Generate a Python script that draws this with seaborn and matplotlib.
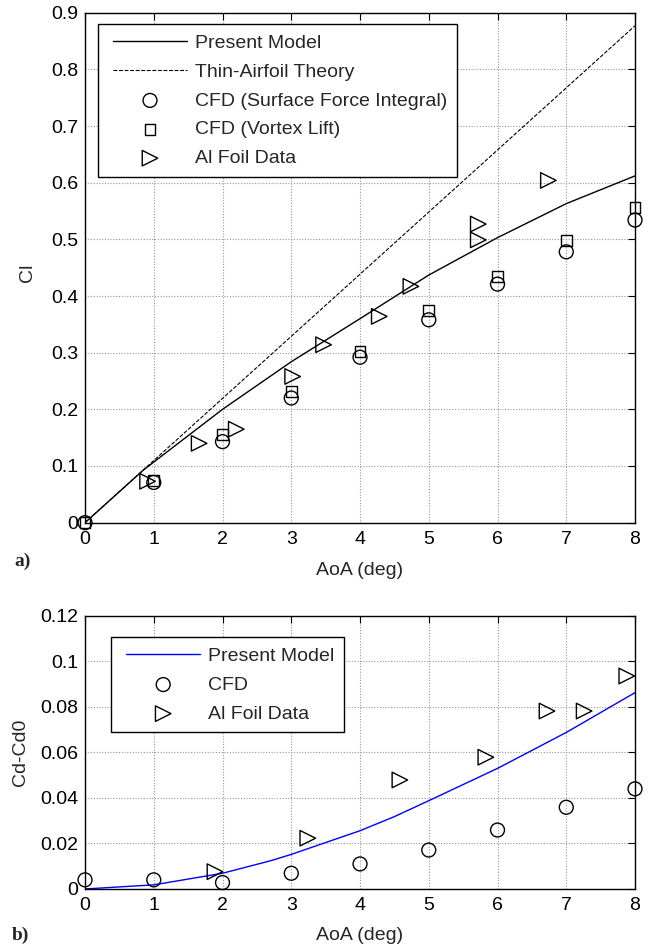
import numpy as np
import pandas as pd
import matplotlib
matplotlib.use("Agg")
import matplotlib.pyplot as plt
import seaborn as sns
from matplotlib.lines import Line2D
from matplotlib.collections import PathCollection
from matplotlib.legend_handler import HandlerLine2D, HandlerPathCollection
from matplotlib.ticker import FuncFormatter

# ---------------- data: panel a) lift ----------------
model_aoa = [0, 0.85, 2, 3, 4, 5, 6, 7, 8]
model_cl = [0, 0.093, 0.200, 0.284, 0.360, 0.437, 0.503, 0.563, 0.612]

thin_aoa = [0, 8]
thin_cl = [0, 0.877]

cfd_aoa = [0, 1, 2, 3, 4, 5, 6, 7, 8]
cfd_sfi_cl = [0, 0.071, 0.143, 0.220, 0.292, 0.358, 0.421, 0.478, 0.534]
cfd_vl_cl = [0, 0.075, 0.155, 0.231, 0.302, 0.374, 0.435, 0.498, 0.557]

foil_aoa = [0.91, 1.66, 2.20, 3.02, 3.47, 4.28, 4.74, 5.72, 5.72, 6.74]
foil_cl = [0.073, 0.140, 0.165, 0.258, 0.314, 0.364, 0.417, 0.499, 0.527, 0.604]

# ---------------- data: panel b) drag ----------------
model_cd_aoa = [0, 1, 2, 2.7, 3, 4, 4.5, 5, 6, 7, 8]
model_cd = [0, 0.0018, 0.0069, 0.0124, 0.0152, 0.0256, 0.0318, 0.0388, 0.0530, 0.0688, 0.0863]

cfd_cd = [0.0040, 0.0040, 0.0028, 0.0069, 0.0110, 0.0171, 0.0259, 0.0359, 0.0440]

foil_cd_aoa = [1.89, 3.24, 4.58, 5.83, 6.72, 7.26, 7.88]
foil_cd = [0.0076, 0.0223, 0.0479, 0.0579, 0.0782, 0.0782, 0.0936]

# ---------------- ticks / labels ----------------
x_ticks = [0, 1, 2, 3, 4, 5, 6, 7, 8]
cl_ticks = [0, 0.1, 0.2, 0.3, 0.4, 0.5, 0.6, 0.7, 0.8, 0.9]
cd_ticks = [0, 0.02, 0.04, 0.06, 0.08, 0.1, 0.12]

sns.set_style("white")
plt.rcParams["font.family"] = ["Liberation Sans", "DejaVu Sans"]
plt.rcParams["axes.edgecolor"] = "black"
plt.rcParams["axes.linewidth"] = 1.0

fig = plt.figure(figsize=(6.55, 9.46), dpi=100)
ax1 = fig.add_axes([0.1298, 0.4475, 0.8397, 0.5391])
ax2 = fig.add_axes([0.1298, 0.0603, 0.8397, 0.2886])

mk = dict(facecolors="none", edgecolor="black", color="black", linewidth=1.0, clip_on=False, zorder=3)

# panel a
sns.lineplot(x=model_aoa, y=model_cl, ax=ax1, color="black", lw=1.0,
             label="Present Model", sort=False, estimator=None)
sns.lineplot(x=thin_aoa, y=thin_cl, ax=ax1, color="black", lw=0.8,
             linestyle=(0, (3.5, 1.5)), label="Thin-Airfoil Theory", sort=False, estimator=None)
sns.scatterplot(x=cfd_aoa, y=cfd_sfi_cl, ax=ax1, marker="o", s=100,
                label="CFD (Surface Force Integral)", **mk)
sns.scatterplot(x=cfd_aoa, y=cfd_vl_cl, ax=ax1, marker="s", s=62,
                label="CFD (Vortex Lift)", **mk)
sns.scatterplot(x=foil_aoa, y=foil_cl, ax=ax1, marker=">", s=125,
                label="Al Foil Data", **mk)

# panel b
sns.lineplot(x=model_cd_aoa, y=model_cd, ax=ax2, color="#0000ff", lw=1.0,
             label="Present Model", sort=False, estimator=None)
sns.scatterplot(x=cfd_aoa, y=cfd_cd, ax=ax2, marker="o", s=100, label="CFD", **mk)
sns.scatterplot(x=foil_cd_aoa, y=foil_cd, ax=ax2, marker=">", s=125,
                label="Al Foil Data", **mk)

fmt = FuncFormatter(lambda v, p: f"{v:g}")
for ax, yt in ((ax1, cl_ticks), (ax2, cd_ticks)):
    ax.set_xlim(x_ticks[0], x_ticks[-1])
    ax.set_ylim(yt[0], yt[-1])
    ax.set_xticks(x_ticks)
    ax.set_yticks(yt)
    ax.yaxis.set_major_formatter(fmt)
    ax.xaxis.set_major_formatter(fmt)
    ax.tick_params(direction="in", top=True, right=True, length=5, width=0.8,
                   labelsize=14, colors="black")
    ax.tick_params(axis="x", pad=6)
    ax.tick_params(axis="y", pad=5)
    ax.grid(True, linestyle=(0, (1, 1.5)), color="0.6", lw=0.8)
    ax.set_axisbelow(True)
    for sp in ax.spines.values():
        sp.set_visible(True)
        sp.set_color("black")
        sp.set_linewidth(1.0)

ax1.set_xlabel("AoA (deg)", fontsize=14)
ax1.set_ylabel("Cl", fontsize=14)
ax2.set_xlabel("AoA (deg)", fontsize=14)
ax2.set_ylabel("Cd-Cd0", fontsize=14)
ax1.xaxis.set_label_coords(0.5, -0.078)
ax2.xaxis.set_label_coords(0.5, -0.141)
ax1.yaxis.set_label_coords(-0.09, 0.49)
ax2.yaxis.set_label_coords(-0.102, 0.5)

hmap = {Line2D: HandlerLine2D(xpad=0.3), PathCollection: HandlerPathCollection(xpad=0.3)}
leg_kw = dict(fontsize=14, loc="upper left", borderaxespad=0, frameon=True,
              fancybox=False, edgecolor="black", framealpha=1, handlelength=4.1,
              handletextpad=0.4, borderpad=0.5, handler_map=hmap, scatterpoints=1)
h1, l1 = ax1.get_legend_handles_labels()
lg1 = ax1.legend(h1, l1, bbox_to_anchor=(0.0227, 0.977), labelspacing=0.58, **leg_kw)
h2, l2 = ax2.get_legend_handles_labels()
lg2 = ax2.legend(h2, l2, bbox_to_anchor=(0.0467, 0.922), labelspacing=0.59, **leg_kw)
for lg in (lg1, lg2):
    lg.get_frame().set_linewidth(1.0)
    lg.set_zorder(5)

fig.text(0.0214, 0.407, "a)", fontsize=14, fontweight="bold",
         family=["Liberation Serif", "DejaVu Serif"], ha="left", va="center")
fig.text(0.0183, 0.0116, "b)", fontsize=14, fontweight="bold",
         family=["Liberation Serif", "DejaVu Serif"], ha="left", va="center")

fig.savefig("out.png", dpi=100)
